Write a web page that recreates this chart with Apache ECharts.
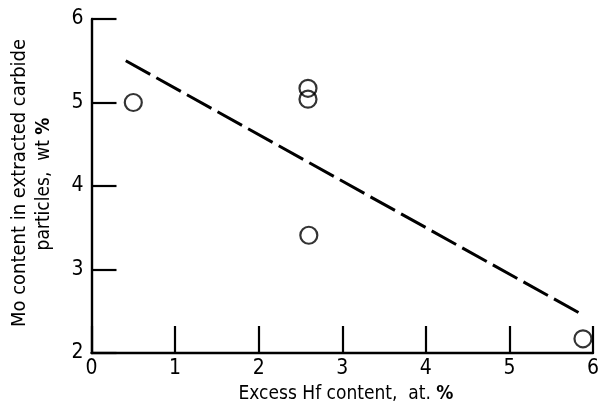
<!DOCTYPE html>
<html>
<head>
<meta charset="utf-8">
<script src="https://cdn.jsdelivr.net/npm/echarts@6/dist/echarts.min.js"></script>
<style>
  html, body { margin: 0; padding: 0; background: #fff; }
  #chart { width: 605px; height: 411px; }
</style>
</head>
<body>
<div id="chart"></div>
<script>
// Measured samples: excess Hf vs. Mo in extracted carbide particles
var hfExcess = [0.50, 2.59, 2.59, 2.60, 5.88];
var moContent = [5.00, 5.17, 5.04, 3.41, 2.17];

// Trend line end points
var trendX = [0.41, 5.89];
var trendY = [5.50, 2.45];

// Axis ranges
var xTicks = [0, 1, 2, 3, 4, 5, 6];
var yTicks = [2, 3, 4, 5, 6];

var FONT = "'DejaVu Sans Condensed', 'Liberation Sans', sans-serif";

var chart = echarts.init(document.getElementById('chart'));

var points = hfExcess.map(function (x, i) { return [x, moContent[i]]; });
var trend = trendX.map(function (x, i) { return [x, trendY[i]]; });

chart.setOption({
  animation: false,
  backgroundColor: '#fff',
  grid: { left: 91.5, right: 12, top: 19, bottom: 58 },
  xAxis: {
    type: 'value',
    min: xTicks[0],
    max: xTicks[xTicks.length - 1],
    interval: 1,
    axisLine: { show: true, lineStyle: { color: '#000', width: 2.4 } },
    axisTick: { show: true, inside: true, length: 27, lineStyle: { color: '#000', width: 2.2 } },
    axisLabel: { color: '#000', fontFamily: FONT, fontSize: 21, margin: 5 },
    splitLine: { show: false }
  },
  yAxis: {
    type: 'value',
    min: yTicks[0],
    max: yTicks[yTicks.length - 1],
    interval: 1,
    axisLine: { show: true, lineStyle: { color: '#000', width: 2.4 } },
    axisTick: { show: true, inside: true, length: 25, lineStyle: { color: '#000', width: 2.2 } },
    axisLabel: { color: '#000', fontFamily: FONT, fontSize: 21, margin: 8 },
    splitLine: { show: false }
  },
  graphic: [
    {
      type: 'text',
      x: 346,
      y: 394,
      style: {
        text: 'Excess Hf content,  at. {b|%}',
        font: '19px ' + FONT,
        fill: '#000',
        align: 'center',
        verticalAlign: 'middle',
        rich: { b: { fontWeight: 'bold', fontSize: 19, fontFamily: FONT } }
      }
    },
    {
      type: 'text',
      x: 20,
      y: 183,
      rotation: Math.PI / 2,
      style: {
        text: 'Mo content in extracted carbide',
        font: '20px ' + FONT,
        fill: '#000',
        align: 'center',
        verticalAlign: 'middle'
      }
    },
    {
      type: 'text',
      x: 44,
      y: 184,
      rotation: Math.PI / 2,
      style: {
        text: 'particles,  wt {b|%}',
        font: '19px ' + FONT,
        fill: '#000',
        align: 'center',
        verticalAlign: 'middle',
        rich: { b: { fontWeight: 'bold', fontSize: 19, fontFamily: FONT } }
      }
    }
  ],
  series: [
    {
      type: 'line',
      data: trend,
      showSymbol: false,
      lineStyle: { color: '#000', width: 3, type: [28, 7] },
      z: 2
    },
    {
      type: 'scatter',
      data: points,
      symbol: 'circle',
      symbolSize: 17,
      itemStyle: { color: 'rgba(0,0,0,0)', borderColor: '#000', borderWidth: 2.2 },
      z: 3
    }
  ]
});
</script>
</body>
</html>
